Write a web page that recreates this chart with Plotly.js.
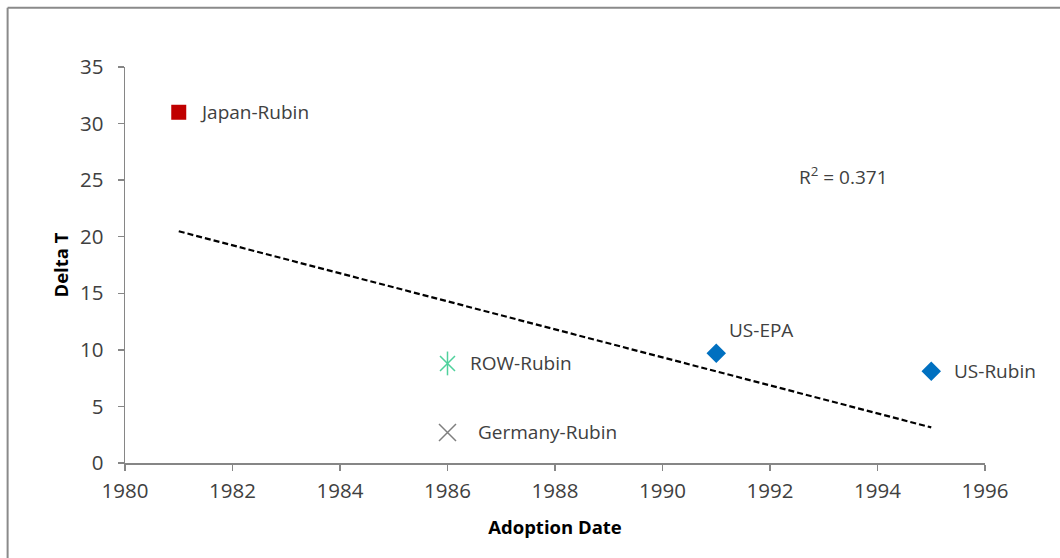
<!DOCTYPE html>
<html>
<head>
<meta charset="utf-8">
<script src="https://cdn.plot.ly/plotly-3.0.1.min.js"></script>
<style>html,body{margin:0;padding:0;background:#fff;}#chart{width:1060px;height:558px;}</style>
</head>
<body>
<div id="chart"></div>
<script>
// Data
const names = ["Japan-Rubin", "ROW-Rubin", "Germany-Rubin", "US-EPA", "US-Rubin"];
const adoptionYear = [1981, 1986, 1986, 1991, 1995];
const deltaT = [31, 8.8, 2.7, 9.7, 8.1];
const xTicks = [1980, 1982, 1984, 1986, 1988, 1990, 1992, 1994, 1996];
const yTicks = [0, 5, 10, 15, 20, 25, 30, 35];
const rSquaredLabel = "R<sup>2</sup> = 0.371";

// Linear trendline (least squares over all points), drawn from first to last year
const n = adoptionYear.length;
const mx = adoptionYear.reduce((a, b) => a + b, 0) / n;
const my = deltaT.reduce((a, b) => a + b, 0) / n;
let sxy = 0, sxx = 0;
for (let i = 0; i < n; i++) { sxy += (adoptionYear[i] - mx) * (deltaT[i] - my); sxx += (adoptionYear[i] - mx) ** 2; }
const slope = sxy / sxx, intercept = my - slope * mx;
const xMin = Math.min(...adoptionYear), xMax = Math.max(...adoptionYear);
const trendX = [xMin, xMax];
const trendY = trendX.map(x => intercept + slope * x);

const FONT = "Open Sans, sans-serif";
const idx = k => names.indexOf(k);
function pt(k) { const i = idx(k); return {x: [adoptionYear[i]], y: [deltaT[i]]}; }

const traces = [
  {type: "scatter", mode: "lines", x: trendX, y: trendY, line: {color: "#000", width: 2.2, dash: "6px,3px"}, hoverinfo: "skip"},
  Object.assign({type: "scatter", mode: "markers", marker: {symbol: "square", size: 15, color: "#C00000"}}, pt("Japan-Rubin")),
  Object.assign({type: "scatter", mode: "markers", marker: {symbol: "line-ns-open", size: 17, color: "#4FD19C", line: {color: "#4FD19C", width: 1.5}}}, pt("ROW-Rubin")),
  Object.assign({type: "scatter", mode: "markers", marker: {symbol: "x-thin-open", size: 15, color: "#4FD19C", line: {color: "#4FD19C", width: 1.5}}}, pt("ROW-Rubin")),
  Object.assign({type: "scatter", mode: "markers", marker: {symbol: "x-thin-open", size: 17, color: "#7F7F7F", line: {color: "#7F7F7F", width: 1.5}}}, pt("Germany-Rubin")),
  Object.assign({type: "scatter", mode: "markers", marker: {symbol: "diamond", size: 15, color: "#0070C0"}}, pt("US-EPA")),
  Object.assign({type: "scatter", mode: "markers", marker: {symbol: "diamond", size: 15, color: "#0070C0"}}, pt("US-Rubin"))
];

const labelShift = {
  "Japan-Rubin": [19, 0],
  "ROW-Rubin": [20, 0],
  "Germany-Rubin": [28, 0],
  "US-EPA": [11, 23],
  "US-Rubin": [21, 0]
};
const annotations = names.map((nm, i) => ({
  x: adoptionYear[i], y: deltaT[i], xref: "x", yref: "y", text: nm, showarrow: false,
  xanchor: "left", yanchor: "middle", xshift: labelShift[nm][0], yshift: labelShift[nm][1],
  font: {family: FONT, size: 19, color: "#404040"}
}));
annotations.push({x: 1992.5, y: 25.4, xref: "x", yref: "y", text: rSquaredLabel, showarrow: false,
  xanchor: "left", yanchor: "middle", font: {family: FONT, size: 19, color: "#404040"}});

const axisCommon = {
  showgrid: false, zeroline: false, showline: true, linecolor: "#868686", linewidth: 1.5,
  ticks: "outside", ticklen: 6, tickcolor: "#868686", tickwidth: 1.5,
  tickfont: {family: FONT, size: 20.5, color: "#404040"}
};

const layout = {
  width: 1060, height: 558,
  margin: {l: 124.5, r: 75, t: 66.7, b: 95.3},
  paper_bgcolor: "#fff", plot_bgcolor: "#fff",
  showlegend: false,
  xaxis: Object.assign({}, axisCommon, {range: [1980, 1996], tickvals: xTicks, ticktext: xTicks.map(String),
    ticklabelstandoff: 3,
    title: {text: "<b>Adoption Date</b>", font: {family: FONT, size: 18.5, color: "#000"}, standoff: 18}}),
  yaxis: Object.assign({}, axisCommon, {range: [0, 35], tickvals: yTicks, ticktext: yTicks.map(String),
    ticklabelstandoff: 10,
    title: {text: "<b>Delta T</b>", font: {family: FONT, size: 18.5, color: "#000"}, standoff: 6}}),
  annotations: annotations,
  shapes: [
    {type: "line", xref: "paper", yref: "paper", x0: -0.1365, x1: 1.1, y0: 1.1495, y1: 1.1495, line: {color: "#8a8a8a", width: 2}},
    {type: "line", xref: "paper", yref: "paper", x0: -0.1365, x1: -0.1365, y0: 1.1495, y1: -0.25, line: {color: "#8a8a8a", width: 2}}
  ]
};

Plotly.newPlot("chart", traces, layout, {displayModeBar: false, staticPlot: true});
</script>
</body>
</html>
